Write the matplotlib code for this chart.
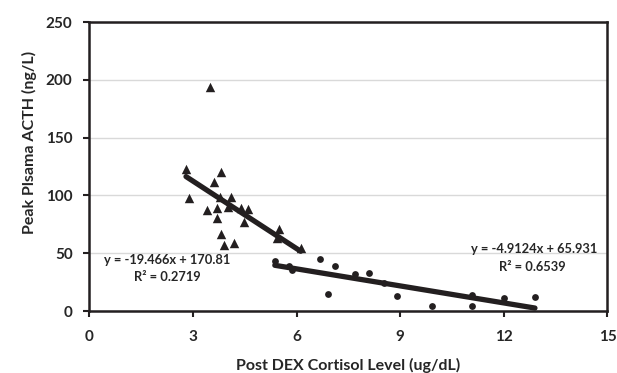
import numpy as np
import matplotlib.pyplot as plt

plt.rcParams['font.family'] = ['Lato', 'DejaVu Sans']

# triangles: group 1
x_tri = [2.80, 2.89, 3.40, 3.49, 3.60, 3.70, 3.70, 3.78, 3.81, 3.80,
         3.90, 4.02, 4.10, 4.20, 4.39, 4.49, 4.60, 5.42, 5.50, 6.12]
y_tri = [122.7, 97.4, 87.3, 194.0, 111.8, 88.7, 80.6, 98.8, 119.9, 66.6,
         57.0, 90.1, 98.5, 58.5, 89.3, 77.2, 87.9, 62.8, 70.9, 54.7]

# circles: group 2
x_cir = [5.37, 5.79, 5.88, 6.69, 6.90, 7.10, 7.70, 8.09, 8.53, 8.90,
         9.91, 11.09, 11.09, 12.00, 12.90]
y_cir = [43.5, 39.2, 35.4, 44.9, 14.4, 39.2, 32.0, 33.1, 23.9, 13.2,
         4.6, 13.8, 4.6, 11.5, 12.4]

# linear trend lines as printed on the chart
fit_tri = (-19.466, 170.81, 0.2719)
fit_cir = (-4.9124, 65.931, 0.6539)

dark = "#231f20"
txt = "#262626"

fig = plt.figure(figsize=(6.17, 3.73), dpi=100)
ax = fig.add_axes([0.1447, 0.1662, 0.8399, 0.7748])

ax.scatter(x_tri, y_tri, marker="^", s=46, color=dark, zorder=3, linewidths=0)
ax.scatter(x_cir, y_cir, marker="o", s=24, color=dark, zorder=3, linewidths=0)

for xs, (m, b, r2) in [(x_tri, fit_tri), (x_cir, fit_cir)]:
    xx = np.array([min(xs), max(xs)])
    ax.plot(xx, m * xx + b, color=dark, linewidth=3.8, solid_capstyle="round", zorder=4)

eq_kw = dict(ha="center", va="center", fontsize=9.3, fontweight="bold", color=txt)
ax.text(2.26, 44.1, "y = -19.466x + 170.81", **eq_kw)
ax.text(2.26, 29.1, "R² = 0.2719", **eq_kw)
ax.text(12.87, 53.3, "y = -4.9124x + 65.931", **eq_kw)
ax.text(12.81, 38.3, "R² = 0.6539", **eq_kw)

ax.set_xlim(0, 15)
ax.set_ylim(0, 250)
ax.set_xticks([0, 3, 6, 9, 12, 15])
ax.set_yticks([0, 50, 100, 150, 200, 250])
ax.yaxis.grid(True, color="#d9d9d9", linewidth=1.0)
ax.set_axisbelow(True)

for sp in ax.spines.values():
    sp.set_color(dark)
    sp.set_linewidth(1.8)

ax.tick_params(direction="out", length=4.5, width=1.5, color=dark,
               labelsize=11, labelcolor=txt)
ax.tick_params(axis="x", pad=9.5)
ax.tick_params(axis="y", pad=7.5)
for lab in ax.get_xticklabels() + ax.get_yticklabels():
    lab.set_fontweight("bold")

ax.set_xlabel("Post DEX Cortisol Level (ug/dL)", fontsize=11.5, fontweight="bold", color=txt)
ax.set_ylabel("Peak Plsama ACTH (ng/L)", fontsize=11.5, fontweight="bold", color=txt)
ax.xaxis.set_label_coords(0.5, -0.163)
ax.yaxis.set_label_coords(-0.101, 0.585)

fig.savefig("out.png", dpi=100)
